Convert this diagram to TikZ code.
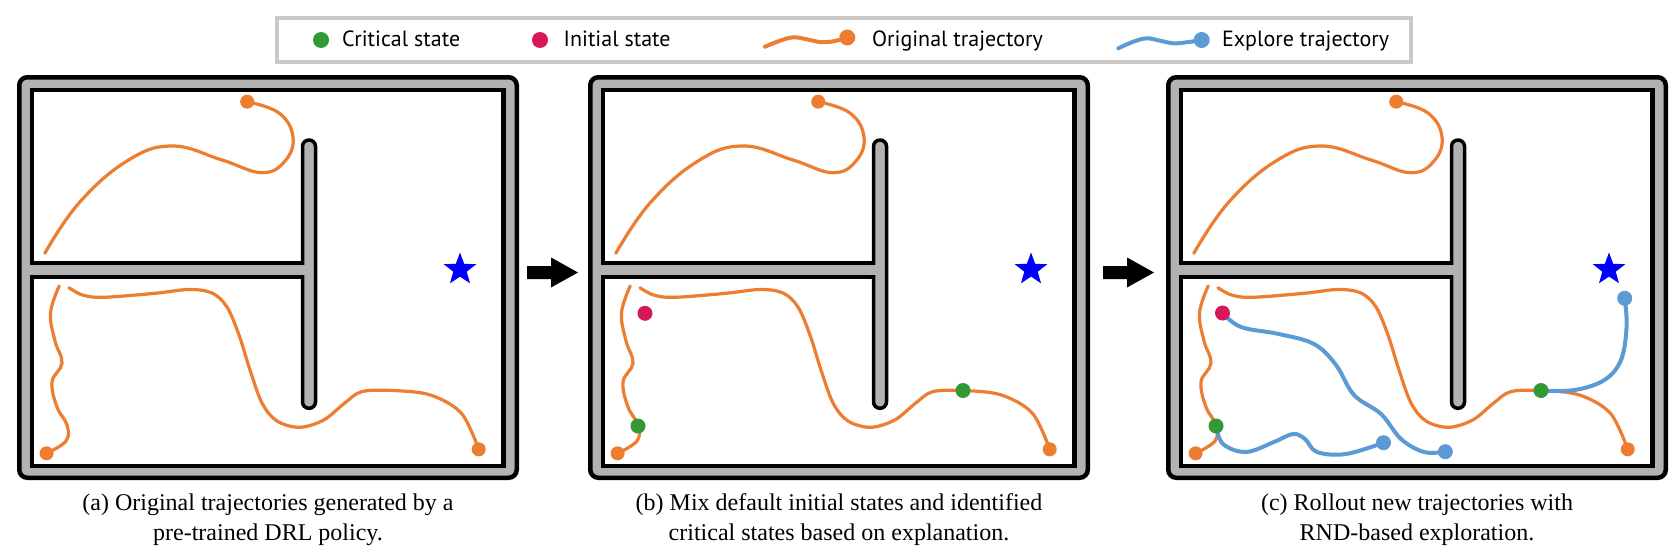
\documentclass[tikz,border=0pt]{standalone}
\usepackage{fontspec}
\setmainfont{Liberation Serif}
\newfontfamily\legendfont{PT Sans}
\usetikzlibrary{shapes.geometric}
\definecolor{traj}{RGB}{237,125,49}
\definecolor{expl}{RGB}{91,155,213}
\definecolor{crit}{RGB}{51,153,51}
\definecolor{init}{RGB}{214,24,90}
\definecolor{wallgray}{RGB}{178,178,178}
\definecolor{legendgray}{RGB}{200,200,200}
\definecolor{goal}{RGB}{0,0,255}
\tikzset{
  outerwall/.style={draw=black, line width=2.25pt, fill=wallgray, rounded corners=4pt},
  innerroom/.style={draw=black, line width=2.2pt, fill=white},
  wallline/.style={draw=black, line width=1.75pt},
  capsule/.style={draw=black, line width=1.75pt, fill=wallgray, rounded corners=3.2pt},
  origline/.style={draw=traj, line width=1.6pt, line cap=round},
  explline/.style={draw=expl, line width=2pt, line cap=round},
  enddot/.style={circle, fill=traj, inner sep=0pt, minimum size=7pt},
  bluedot/.style={circle, fill=expl, inner sep=0pt, minimum size=7.5pt},
  critdot/.style={circle, fill=crit, inner sep=0pt, minimum size=7.5pt},
  initdot/.style={circle, fill=init, inner sep=0pt, minimum size=7.5pt},
  legdot/.style={circle, inner sep=0pt, minimum size=8pt},
  goalstar/.style={star, star points=5, star point ratio=2.4, fill=goal, inner sep=0pt, minimum size=17pt},
  capline/.style={anchor=base, inner sep=0pt, font=\fontsize{12}{15}\selectfont},
  legendtext/.style={anchor=base west, font=\legendfont\fontsize{11}{13}\selectfont, inner sep=0pt},
  blockarrow/.style={fill=black},
}
\newcommand\mazepanel[2]{%
\begin{scope}[shift={(#1,75)}]
  \draw[outerwall] (2.25,2.25) rectangle (499.75,402.75);
  \draw[innerroom] (15,15) rectangle (486.5,391);
  \draw[capsule] (285.5,65) rectangle (298.5,333.3);
  \fill[wallgray] (5,189.75) rectangle (292,200.25);
  \draw[wallline] (15,188) -- (285.5,188);
  \draw[wallline] (15,202) -- (285.5,202);
  \node[goalstar] (#2star) at (443,194.5) {};
  \draw[origline] plot[smooth, tension=0.7] coordinates {(27.8,178.3) (62,128) (110,86) (155,71) (205,85) (244.7,97.7) (268,86) (276,62) (262,38) (230.2,26.7)};
  \draw[origline] plot[smooth, tension=0.55] coordinates {(51.9,212.7) (65.6,220) (86.3,222.3) (138,218.3) (172,214.5) (195,218) (210,232) (222,260) (233,295) (245,328) (260,346) (282.6,352.3) (306.7,345) (327.4,328.3) (344.6,316.7) (375,315.5) (413.4,320) (444.4,338.3) (461.7,374.3)};
  \draw[origline] plot[smooth, tension=0.65] coordinates {(42.2,211) (33.5,238) (38,266) (45,288) (35,307) (40,332) (50,350) (49,366) (29.6,378.3)};
  \node[enddot] (#2endA) at (230.2,26.7) {};
  \node[enddot] (#2endB) at (461.7,374.3) {};
  \node[enddot] (#2endC) at (29.6,378.3) {};
\end{scope}}
\begin{document}
\begin{tikzpicture}[x=0.5pt, y=-0.5pt]
\useasboundingbox (0,0) rectangle (1676,557);
% legend
\draw[draw=legendgray, line width=2pt] (277,18) rectangle (1411,62);
\node[legdot, fill=crit] (legCritDot) at (321,40) {};
\node[legendtext] (legCrit) at (341.7,46.5) {Critical state};
\node[legdot, fill=init] (legInitDot) at (540,40) {};
\node[legendtext] (legInit) at (563.3,46.5) {Initial state};
\node[legdot, fill=traj] (legOrigDot) at (847.3,37.5) {};
\draw[draw=traj, line width=2pt, line cap=round] plot[smooth, tension=0.6] coordinates {(765,46.7) (780,40.7) (793.3,37.3) (806.7,39.3) (820,42) (833.3,41.3) (847.3,37.5)};
\node[legendtext] (legOrig) at (871.7,46.5) {Original trajectory};
\node[legdot, fill=expl] (legExplDot) at (1201.7,40) {};
\draw[draw=expl, line width=2pt, line cap=round] plot[smooth, tension=0.6] coordinates {(1118.3,48.3) (1133.3,41.7) (1146.7,38.3) (1160,40.7) (1173.3,43.3) (1186.7,42.3) (1201.7,40)};
\node[legendtext] (legExpl) at (1221.7,46.5) {Explore trajectory};
% panels
\mazepanel{17}{a}
\mazepanel{588}{b}
\mazepanel{1166}{c}
\begin{scope}[shift={(588,75)}]
  \node[initdot] (bInit) at (57,238.3) {};
  \node[critdot] (bCritA) at (50,351) {};
  \node[critdot] (bCritB) at (375,315.5) {};
\end{scope}
\begin{scope}[shift={(1166,75)}]
  \draw[explline] plot[smooth, tension=0.6] coordinates {(56.5,238) (75,252) (112.8,259) (148,269) (170,290) (188,320) (215,339) (235,364) (258,377) (279.3,376.7)};
  \draw[explline] plot[smooth, tension=0.6] coordinates {(50,351) (57,369) (80,377) (108,367) (127,359) (139,364) (151,377) (180,379) (217.5,367.7)};
  \draw[explline] plot[smooth, tension=0.6] coordinates {(375,315.5) (408.8,315) (438.4,305) (455,285) (460.6,251.7) (458.7,223.3)};
  \node[bluedot] (cEndA) at (279.3,376.7) {};
  \node[bluedot] (cEndB) at (217.5,367.7) {};
  \node[bluedot] (cEndC) at (458.7,223.3) {};
  \node[initdot] (cInit) at (56.5,238) {};
  \node[critdot] (cCritA) at (50,351) {};
  \node[critdot] (cCritB) at (375,315.5) {};
\end{scope}
% arrows
\fill[blockarrow] (527,266) -- (551,266) -- (551,257.5) -- (578,272.5) -- (551,287.5) -- (551,279) -- (527,279) -- cycle;
\fill[blockarrow] (1103,266) -- (1127,266) -- (1127,257.5) -- (1154,272.5) -- (1127,287.5) -- (1127,279) -- (1103,279) -- cycle;
% captions
\node[capline] (capA1) at (268,510) {(a) Original trajectories generated by a};
\node[capline] (capA2) at (268,540) {pre-trained DRL policy.};
\node[capline] (capB1) at (839,510) {(b) Mix default initial states and identified};
\node[capline] (capB2) at (839,540) {critical states based on explanation.};
\node[capline] (capC1) at (1417,510) {(c) Rollout new trajectories with};
\node[capline] (capC2) at (1417,540) {RND-based exploration.};
\end{tikzpicture}
\end{document}
